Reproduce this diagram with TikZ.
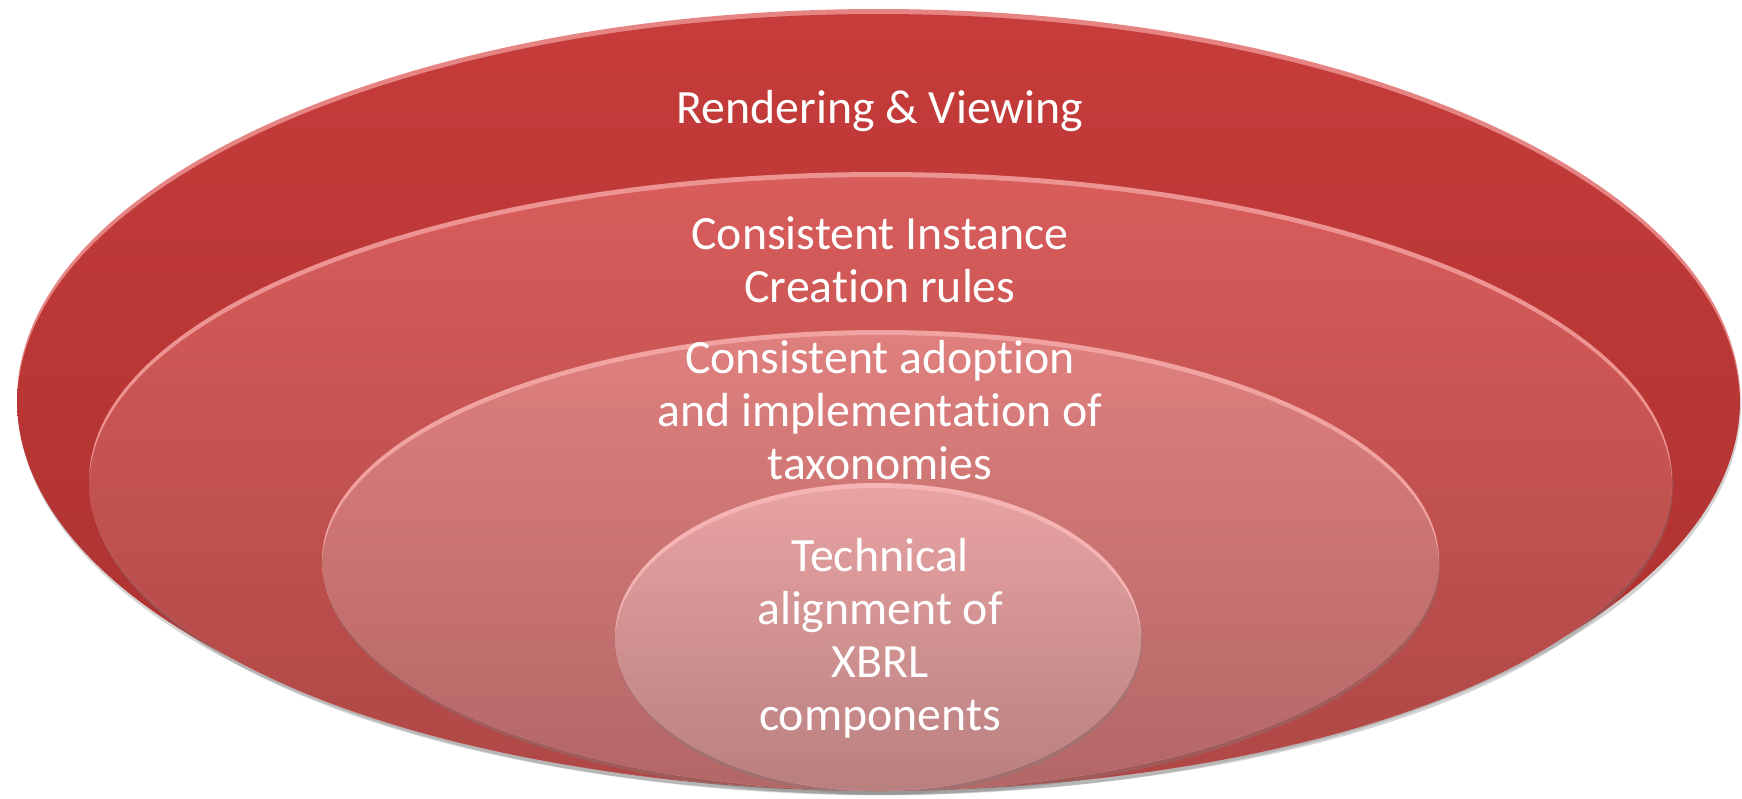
\documentclass[tikz,border=0pt]{standalone}
\usepackage{fontspec}
\setmainfont{Carlito}[Ligatures=NoCommon]
\usetikzlibrary{shapes.geometric,shadows,calc}

\definecolor{renderTop}{HTML}{C63C3A}
\definecolor{renderBot}{HTML}{A93130}
\definecolor{instTop}{HTML}{D85D5B}
\definecolor{instBot}{HTML}{AD4745}
\definecolor{taxoTop}{HTML}{DF807E}
\definecolor{taxoBot}{HTML}{B26666}
\definecolor{techTop}{HTML}{E9A3A3}
\definecolor{techBot}{HTML}{B87F7F}

\begin{document}
\begin{tikzpicture}[x=0.1mm, y=-0.1mm,
  layer/.style 2 args={ellipse, inner sep=0pt, fill=#1!45!pink,
      drop shadow={shadow xshift=0.3pt, shadow yshift=-1.2pt, opacity=.35},
      path picture={\shade[top color=#1, bottom color=#2]
        let \p1=(path picture bounding box.north east),
            \p2=(path picture bounding box.center) in
        ({\x2},{\y2-0.5mm}) ellipse [x radius=\x1-\x2, y radius=\y1-\y2];}},
  ringtext/.style={text=white, align=center, anchor=base,
      font=\fontsize{13.6}{15}\selectfont}
]
  \useasboundingbox (0,0) rectangle (1742,798);

  % nested rings, all resting on the same bottom line
  \node[layer={renderTop}{renderBot}, minimum width=17.23cm, minimum height=7.82cm] (render) at (878.5,400) {};
  \node[layer={instTop}{instBot}, minimum width=15.83cm, minimum height=6.18cm] (inst) at (880.5,481) {};
  \node[layer={taxoTop}{taxoBot}, minimum width=11.17cm, minimum height=4.61cm] (taxo) at (880.5,560.5) {};
  \node[layer={techTop}{techBot}, minimum width=5.26cm, minimum height=3.08cm] (tech) at (878,637) {};

  % ring captions (base = last line)
  \node[ringtext] (renderlbl) at (880,123) {Rendering \& Viewing};
  \node[ringtext] (instlbl) at (880,302) {Consistent Instance\\Creation rules};
  \node[ringtext] (taxolbl) at (880,479) {Consistent adoption\\and implementation of\\taxonomies};
  \node[ringtext] (techlbl) at (880,730) {Technical\\alignment of\\XBRL\\components};
\end{tikzpicture}
\end{document}
